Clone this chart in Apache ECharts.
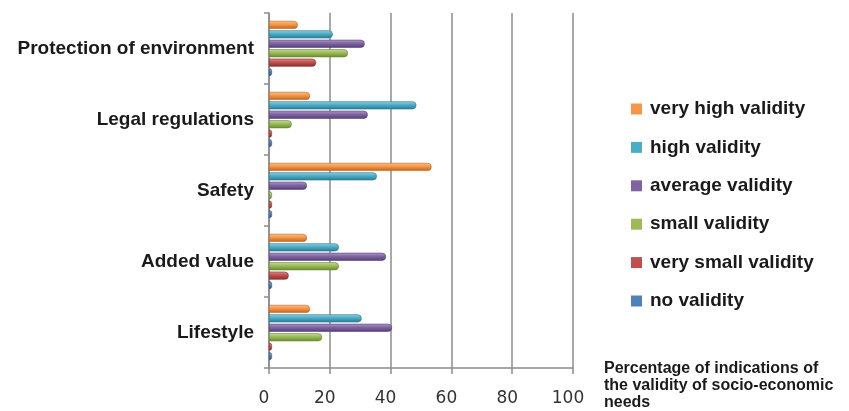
<!DOCTYPE html>
<html>
<head>
<meta charset="utf-8">
<script src="https://cdn.jsdelivr.net/npm/echarts@6/dist/echarts.min.js"></script>
<style>
  html, body { margin: 0; padding: 0; background: #fff; }
  #chart { width: 849px; height: 411px; }
</style>
</head>
<body>
<div id="chart"></div>
<script>
// categories bottom -> top, as the y axis draws them
const categories = ['Lifestyle', 'Added value', 'Safety', 'Legal regulations', 'Protection of environment']

const noValidity = [0, 0, 0, 0, 0]
const verySmallValidity = [0, 6.5, 0, 0, 15.5]
const smallValidity = [17.5, 23, 0, 7.5, 26]
const averageValidity = [40.5, 38.5, 12.5, 32.5, 31.5]
const highValidity = [30.5, 23, 35.5, 48.5, 21]
const veryHighValidity = [13.5, 12.5, 53.5, 13.5, 9.5]

const xTicks = [0, 20, 40, 60, 80, 100]

// first series is drawn at the top of each band
const seriesDefs = [
  {name: 'very high validity', data: veryHighValidity, color: '#F79646', dark: '#b8641f', light: '#fbc18f'},
  {name: 'high validity', data: highValidity, color: '#4BACC6', dark: '#2a7a90', light: '#8fd0e2'},
  {name: 'average validity', data: averageValidity, color: '#8064A2', dark: '#553f74', light: '#ae98cb'},
  {name: 'small validity', data: smallValidity, color: '#9BBB59', dark: '#6a8a2f', light: '#c5db98'},
  {name: 'very small validity', data: verySmallValidity, color: '#C0504D', dark: '#8a2e2b', light: '#dc8a88'},
  {name: 'no validity', data: noValidity, color: '#4F81BD', dark: '#2f5587', light: '#8eb0dc'},
]

const chart = echarts.init(document.getElementById('chart'))

const option = {
  animation: false,
  grid: {
    left: 269,
    width: 304,
    top: 13,
    height: 355,
    containLabel: false
  },
  xAxis: {
    type: 'value',
    min: 0,
    max: 100,
    interval: 20,
    axisLine: {show: true, lineStyle: {color: '#8c8c8c', width: 1.5}},
    axisTick: {show: true, length: 6, lineStyle: {color: '#8c8c8c', width: 1.5}},
    splitLine: {show: true, lineStyle: {color: '#8c8c8c', width: 1.5}},
    axisLabel: {
      margin: 22,
      padding: [0, 10, 0, 0],
      fontFamily: 'DejaVu Sans',
      fontSize: 17,
      color: '#333',
      formatter: (v) => xTicks.includes(v) ? String(v) : ''
    }
  },
  yAxis: {
    type: 'category',
    data: categories,
    axisLine: {show: true, lineStyle: {color: '#8c8c8c', width: 1.5}},
    axisTick: {show: true, length: 5, lineStyle: {color: '#8c8c8c', width: 1.5}},
    axisLabel: {
      margin: 15,
      fontFamily: 'Liberation Sans',
      fontWeight: 'bold',
      fontSize: 19,
      color: '#1a1a1a'
    }
  },
  legend: {
    orient: 'vertical',
    left: 626,
    top: 94,
    itemGap: 18.4,
    itemWidth: 11,
    itemHeight: 11,
    icon: 'rect',
    data: seriesDefs.map((s) => ({name: s.name, itemStyle: {color: s.color, borderWidth: 0}})),
    textStyle: {
      fontFamily: 'Liberation Sans',
      fontWeight: 'bold',
      fontSize: 19,
      lineHeight: 20,
      color: '#1a1a1a',
      padding: [0, 0, 0, 3]
    }
  },
  graphic: [{
    type: 'text',
    left: 604,
    top: 360,
    style: {
      text: 'Percentage of indications of\nthe validity of socio-economic\nneeds',
      font: 'bold 16px "Liberation Sans"',
      fill: '#1a1a1a',
      lineHeight: 17
    }
  }],
  series: seriesDefs.map((s) => ({
    name: s.name,
    type: 'bar',
    data: s.data,
    barWidth: 8,
    barGap: '18%',
    barMinHeight: 3,
    itemStyle: {
      color: new echarts.graphic.LinearGradient(0, 0, 0, 1, [
        {offset: 0, color: s.light},
        {offset: 0.45, color: s.color},
        {offset: 1, color: s.dark}
      ]),
      borderColor: s.dark,
      borderWidth: 0.6,
      borderRadius: [0, 4, 4, 0]
    }
  }))
}

chart.setOption(option)
</script>
</body>
</html>
